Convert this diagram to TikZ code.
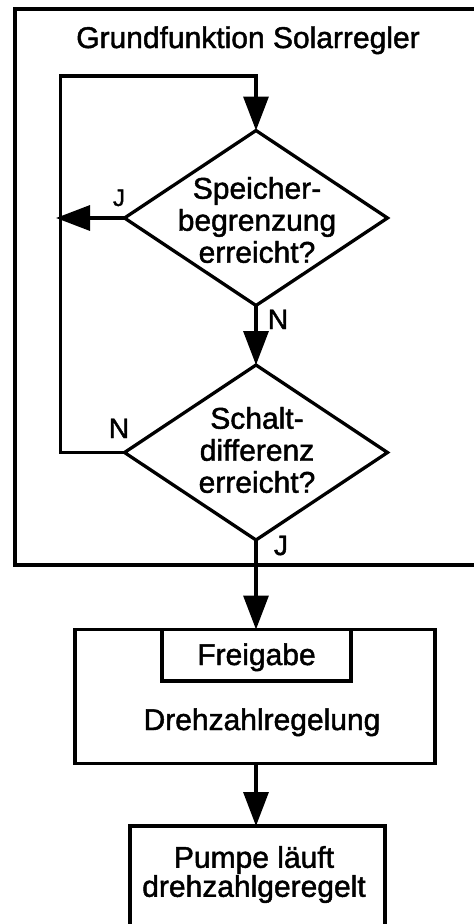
\documentclass[tikz,border=0pt]{standalone}
\usepackage{fontspec}
\setmainfont{Liberation Sans}[FakeBold=1.5]
\usetikzlibrary{arrows.meta,shapes.geometric}
\begin{document}
\begin{tikzpicture}[x=1pt,y=-1pt,
  line join=miter,
  big/.style={font=\fontsize{30}{32}\selectfont},
  lab/.style={font=\fontsize{28}{30}\selectfont, inner sep=0pt, anchor=base},
  txt/.style={big, inner sep=0pt, align=center},
  dia/.style={draw, line width=3.3pt, shape=diamond, minimum width=263pt, minimum height=175pt, inner sep=0pt, outer sep=0pt},
  boxx/.style={draw, line width=3.8pt, rectangle, inner sep=0pt, outer sep=0pt},
  conn/.style={line width=3.3pt},
  arr/.style={conn, -{Triangle[width=25pt,length=34pt]}},
  frame/.style={line width=4pt}
]
\useasboundingbox (0,0) rectangle (474,924);
\clip (0,0) rectangle (474,924);

% frame (open on the right)
\draw[frame] (490,9) -- (14.7,9) -- (14.7,564.7) -- (490,564.7);

\node[txt, anchor=base] (title) at (248,48) {Grundfunktion Solarregler};

% decisions
\node[dia] (d1) at (256,218) {};
\node[txt] (d1t) at (257,220) {Speicher-\\begrenzung\\erreicht?};
\node[dia] (d2) at (256,452.5) {};
\node[txt] (d2t) at (257,450) {Schalt-\\differenz\\erreicht?};

% boxes
\node[boxx, minimum width=360pt, minimum height=134pt] (b1) at (255,696.5) {};
\node[boxx, minimum width=189pt, minimum height=51.2pt] (fg) at (256.2,655.1) {};
\node[txt, anchor=base] (fgt) at (256.5,665) {Freigabe};
\node[txt, anchor=base] (b1t) at (262,730) {Drehzahlregelung};
\node[boxx, minimum width=255pt, minimum height=268pt] (pump) at (257.5,960) {};
\node[txt, font=\fontsize{30}{29}\selectfont] (pumpt) at (254,874.5) {Pumpe läuft\\drehzahlgeregelt};

% connectors
\coordinate (lt) at (60.3,76);
\coordinate (j1end) at (56,218);
\draw[arr] (d2.west) -| (lt) -| (d1.north);
\draw[arr] (d1.west) -- (j1end);
\draw[arr] (d1.south) -- (d2.north);
\draw[arr] (d2.south) -- (d2.south |- b1.north);
\draw[arr] (d2.south |- b1.south) -- (d2.south |- pump.north);

% labels
\node[lab, font=\fontsize{24}{26}\selectfont] (lj1) at (119,206) {J};
\node[lab] (ln1) at (278,329) {N};
\node[lab] (ln2) at (119,438) {N};
\node[lab] (lj2) at (281,555) {J};
\end{tikzpicture}
\end{document}
